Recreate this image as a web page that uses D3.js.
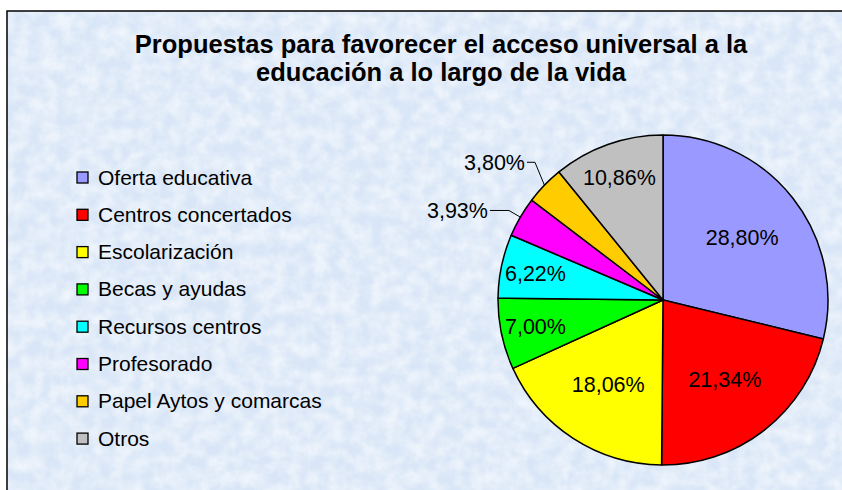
<!DOCTYPE html>
<html>
<head>
<meta charset="utf-8">
<script src="https://cdn.jsdelivr.net/npm/d3@7"></script>
<style>
  body { margin: 0; background: #fff; }
  svg { display: block; font-family: "Liberation Sans", Arial, sans-serif; }
</style>
</head>
<body>
<svg></svg>
<script>
let width = 842, height = 490;

// data
const categories = ["Oferta educativa", "Centros concertados", "Escolarización", "Becas y ayudas",
  "Recursos centros", "Profesorado", "Papel Aytos y comarcas", "Otros"];
const values = [28.80, 21.34, 18.06, 7.00, 6.22, 3.93, 3.80, 10.86];
const colors = ["#9999FF", "#FF0000", "#FFFF00", "#00FF00", "#00FFFF", "#FF00FF", "#FFCC00", "#C0C0C0"];
const titleLines = ["Propuestas para favorecer el acceso universal a la", "educación a lo largo de la vida"];

let svg = d3.select("svg")
  .attr("width", width)
  .attr("height", height);

// textured blue background (fine mottling)
let defs = svg.append("defs");
let filt = defs.append("filter").attr("id", "paper")
  .attr("x", 0).attr("y", 0).attr("width", "100%").attr("height", "100%");
filt.append("feTurbulence")
  .attr("type", "fractalNoise")
  .attr("baseFrequency", 0.07)
  .attr("numOctaves", 3)
  .attr("seed", 3)
  .attr("result", "noise");
filt.append("feColorMatrix")
  .attr("in", "noise")
  .attr("type", "matrix")
  .attr("values", "0 0 0 0 0.98  0 0 0 0 0.99  0 0 0 0 1  0 -1.4 0 0 1.0")
  .attr("result", "tint");
filt.append("feComposite").attr("in", "tint").attr("in2", "SourceGraphic").attr("operator", "in");

svg.append("rect")
  .attr("x", 7).attr("y", 11)
  .attr("width", width).attr("height", height)
  .attr("fill", "#d9e6f7");
svg.append("rect")
  .attr("x", 7).attr("y", 11)
  .attr("width", width).attr("height", height)
  .attr("fill", "#fff")
  .attr("filter", "url(#paper)")
  .attr("opacity", 0.8);
svg.append("rect")
  .attr("x", 7).attr("y", 11)
  .attr("width", width).attr("height", height)
  .attr("fill", "none")
  .attr("stroke", "#000")
  .attr("stroke-width", 1.5);

// title
svg.append("text")
  .attr("x", 441).attr("y", 53)
  .attr("text-anchor", "middle")
  .attr("font-size", 25.5).attr("font-weight", "bold")
  .selectAll("tspan")
  .data(titleLines)
  .enter().append("tspan")
  .attr("x", 441)
  .attr("dy", (d, i) => i === 0 ? 0 : 28)
  .text(d => d);

// legend
let legend = svg.append("g").attr("transform", "translate(77,172)");
let item = legend.selectAll("g")
  .data(categories)
  .enter().append("g")
  .attr("transform", (d, i) => "translate(0," + (i * 37.3) + ")");
item.append("rect")
  .attr("width", 11).attr("height", 11)
  .attr("fill", (d, i) => colors[i])
  .attr("stroke", "#000").attr("stroke-width", 1.3);
item.append("text")
  .attr("x", 21).attr("y", 12.5)
  .attr("font-size", 21)
  .text(d => d);

// pie
let cx = 663, cy = 300, r = 165;
let pie = d3.pie().sort(null).value(d => d);
let arcs = pie(values);
let arc = d3.arc().innerRadius(0).outerRadius(r);

let g = svg.append("g").attr("transform", "translate(" + cx + "," + cy + ")");
g.selectAll("path")
  .data(arcs)
  .enter().append("path")
  .attr("d", arc)
  .attr("fill", (d, i) => colors[i])
  .attr("stroke", "#000")
  .attr("stroke-width", 1.5)
  .attr("stroke-linejoin", "round");

const fmt = v => d3.format(".2f")(v).replace(".", ",") + "%";

// inside labels
let inside = arcs.filter(d => d.value > 5);
g.selectAll("text.in")
  .data(inside)
  .enter().append("text")
  .attr("class", "in")
  .attr("transform", d => {
    let k = d.value > 15 ? 0.61 : 0.79;
    let c = d3.arc().innerRadius(r * k).outerRadius(r * k).centroid(d);
    return "translate(" + c + ")";
  })
  .attr("text-anchor", "middle")
  .attr("dy", "0.35em")
  .attr("font-size", 21.5)
  .text(d => fmt(d.value));

// outside labels with leader lines
let outside = arcs.filter(d => d.value <= 5);
const leaderOpts = [{ k: 1.08, f: 1, h: 19 }, { k: 1.2, f: 0.4, h: 8 }];
function leader(d, i) {
  let o = leaderOpts[i];
  let a = d3.arc().innerRadius(r).outerRadius(r).centroid(d);
  let e = d3.arc().innerRadius(r * o.k).outerRadius(r * o.k).centroid(d);
  let elbow = [a[0] + (e[0] - a[0]) * o.f, e[1]];
  return [a, elbow, [elbow[0] - o.h, elbow[1]]];
}
let outer = g.selectAll("g.out")
  .data(outside)
  .enter().append("g").attr("class", "out");
outer.append("polyline")
  .attr("points", (d, i) => leader(d, i).join(" "))
  .attr("fill", "none")
  .attr("stroke", "#000")
  .attr("stroke-width", 1);
outer.append("text")
  .attr("x", (d, i) => leader(d, i)[2][0] - 2)
  .attr("y", (d, i) => leader(d, i)[2][1])
  .attr("text-anchor", "end")
  .attr("dy", "0.35em")
  .attr("font-size", 21.5)
  .text(d => fmt(d.value));
</script>
</body>
</html>
